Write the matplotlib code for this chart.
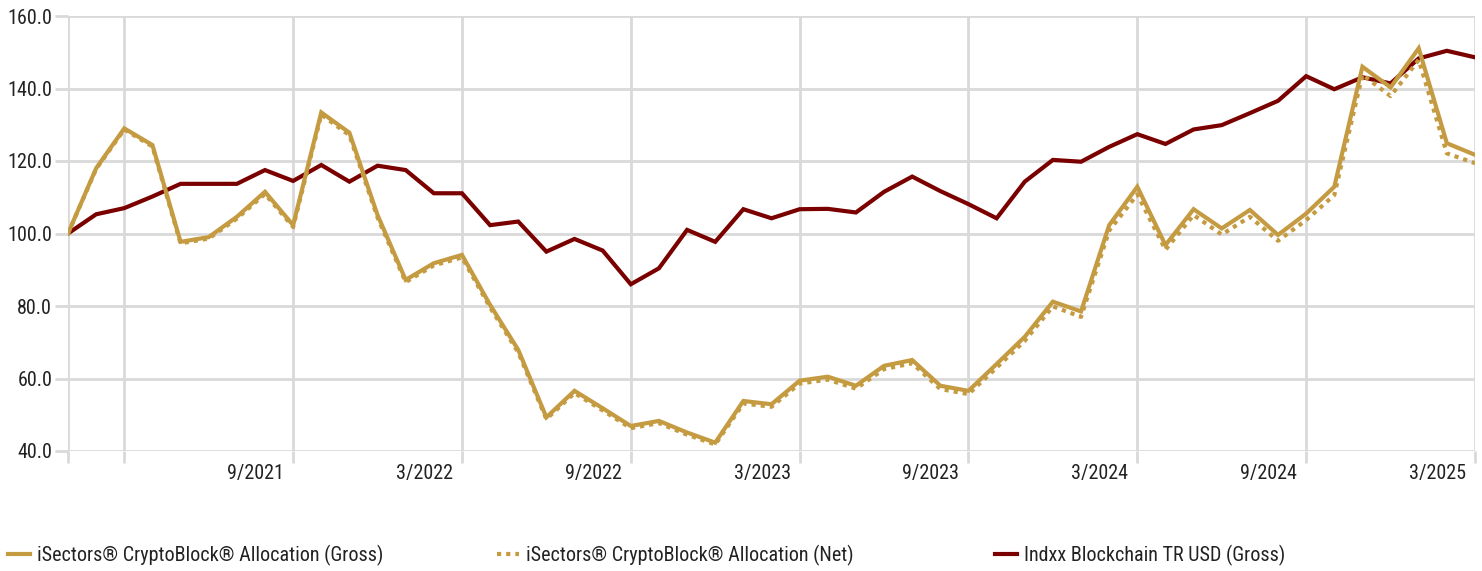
import matplotlib
matplotlib.use("Agg")
import matplotlib.pyplot as plt
from matplotlib import font_manager
from matplotlib.lines import Line2D
import matplotlib.transforms as mtransforms

names = {f.name for f in font_manager.fontManager.ttflist}
fam = [n for n in ["Liberation Sans Narrow", "Roboto Condensed", "Open Sans Condensed"] if n in names] + ["DejaVu Sans"]
plt.rcParams['font.family'] = fam

months = list(range(51))  # 1/2021 .. 3/2025
gross = [100, 118, 129, 124.4, 97.7, 99, 104.6, 111.5, 102.3, 133.4,
         127.8, 105.1, 87.2, 91.8, 94.1, 80.3, 67.9, 49.3, 56.6, 51.8,
         46.9, 48.3, 45.1, 42.3, 53.8, 52.9, 59.4, 60.5, 58.0, 63.5,
         65.1, 58.0, 56.6, 64.0, 71.5, 81.2, 78.5, 102.3, 112.9, 96.8,
         106.7, 101.4, 106.5, 99.6, 105.5, 112.9, 146.0, 140.3, 151.1, 124.9,
         121.7]
net = [100, 117.8, 128.7, 124.0, 97.3, 98.6, 104.1, 110.9, 101.8, 132.8,
       127.1, 104.4, 86.6, 91.2, 93.4, 79.6, 67.2, 48.8, 56.0, 51.2,
       46.3, 47.7, 44.5, 41.8, 53.1, 52.2, 58.6, 59.7, 57.2, 62.6,
       64.2, 57.1, 55.7, 63.0, 70.4, 79.9, 77.0, 100.8, 110.8, 95.5,
       105.1, 99.7, 104.6, 98.0, 103.7, 110.6, 143.8, 137.9, 147.9, 122.1,
       119.4]
index = [100, 105.3, 107.0, 110.2, 113.7, 113.7, 113.7, 117.5, 114.5, 118.9,
         114.3, 118.7, 117.5, 111.1, 111.1, 102.3, 103.3, 95.0, 98.5, 95.3,
         86.0, 90.4, 101.0, 97.7, 106.7, 104.2, 106.7, 106.8, 105.8, 111.5,
         115.7, 111.7, 108.1, 104.2, 114.3, 120.3, 119.8, 123.9, 127.4, 124.7,
         128.7, 129.9, 133.2, 136.6, 143.4, 139.8, 143.1, 141.4, 148.3, 150.4,
         148.6]

tick_pos = [0, 2, 8, 14, 20, 26, 32, 38, 44, 50]
tick_labels = ["", "", "9/2021", "3/2022", "9/2022", "3/2023", "9/2023", "3/2024", "9/2024", "3/2025"]
y_ticks = [40, 60, 80, 100, 120, 140, 160]

labels = ["iSectors® CryptoBlock® Allocation (Gross)",
          "iSectors® CryptoBlock® Allocation (Net)",
          "Indxx Blockchain TR USD (Gross)"]

GOLD = "#C59B42"
MAROON = "#7A0000"
GRID = "#D9D9D9"
TXT = "#222222"
FS = 14.5

W, H = 1482, 571
fig = plt.figure(figsize=(W / 100, H / 100), dpi=100)
ax = fig.add_axes([68 / W, 1 - 451 / H, (1475 - 68) / W, (451 - 16) / H])

ax.plot(months, index, color=MAROON, lw=3.0, solid_joinstyle='miter', zorder=3)
ax.plot(months, net, color=GOLD, lw=3.0, linestyle=(0, (1, 1.2)), zorder=4)
ax.plot(months, gross, color=GOLD, lw=3.0, solid_joinstyle='miter', zorder=5)

ax.set_xlim(0, 50)
ax.set_ylim(40, 160)
ax.set_yticks(y_ticks)
ax.set_yticklabels([f"{v:.1f}" for v in y_ticks], fontsize=FS, color=TXT)
ax.set_xticks(tick_pos)
ax.set_xticklabels([""] * len(tick_pos))

# x labels sit just left of their gridline
trans = ax.get_xaxis_transform() + mtransforms.ScaledTranslation(-9 / 100, -13 / 100, fig.dpi_scale_trans)
for p, lab in zip(tick_pos, tick_labels):
    if lab:
        ax.text(p, 0, lab, transform=trans, ha='right', va='top',
                fontsize=FS, color=TXT, clip_on=False)

ax.grid(True, color=GRID, lw=2)
ax.set_axisbelow(True)
ax.tick_params(axis='x', color=GRID, width=2, length=8.6, direction='out', pad=0.5)
ax.tick_params(axis='y', color=GRID, width=2, length=9.4, direction='out', pad=2)
for s in ax.spines.values():
    s.set_visible(False)

handles = [Line2D([], [], color=GOLD, lw=3),
           Line2D([], [], color=GOLD, lw=3, linestyle=(0, (1, 1.2))),
           Line2D([], [], color=MAROON, lw=3)]
xs = [8, 497, 995]
for h, lab, x in zip(handles, labels, xs):
    fig.legend([h], [lab], loc='center left', frameon=False,
               bbox_to_anchor=(x / W, 1 - 555 / H), borderaxespad=0, borderpad=0,
               fontsize=FS, handlelength=1.1, handletextpad=0.35,
               labelcolor=TXT)

fig.savefig("out.png", dpi=100)
